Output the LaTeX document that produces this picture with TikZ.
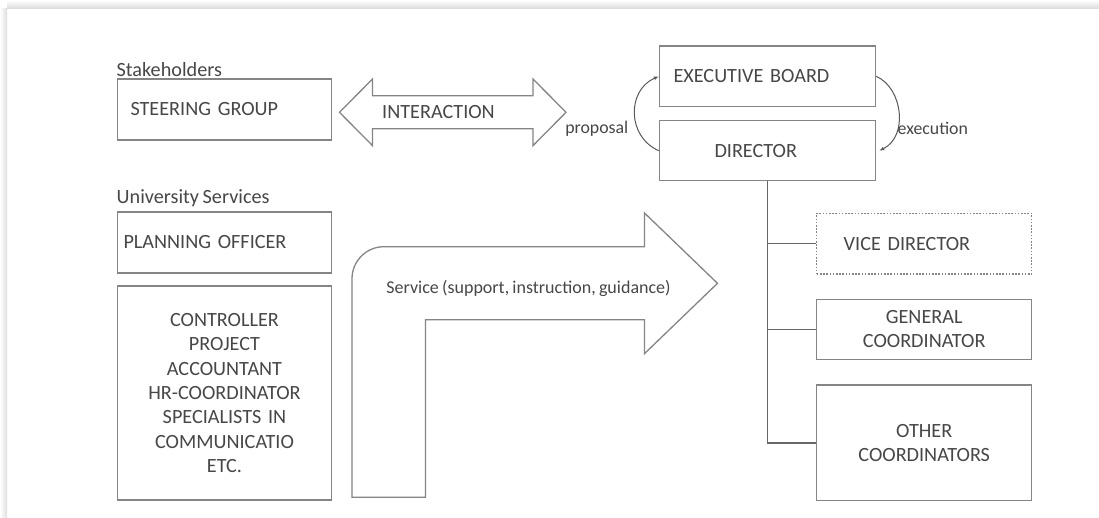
\documentclass[tikz,border=0pt]{standalone}
\usepackage{fontspec}
\setmainfont{Carlito}[WordSpace=0.8]
\usetikzlibrary{arrows.meta}
\definecolor{linegray}{HTML}{858585}
\definecolor{textgray}{HTML}{474747}
\tikzset{
	box/.style={draw=linegray, line width=1.4pt, text=textgray, inner sep=0pt,
		font=\fontsize{20.2}{24.3}\selectfont},
	lbl/.style={text=textgray, inner sep=0pt, font=\fontsize{20.2}{24}\selectfont},
	small/.style={text=textgray, inner sep=0pt, font=\fontsize{17.8}{21}\selectfont},
	shape line/.style={draw=linegray, line width=1.3pt, line join=miter},
	flow/.style={draw=black!65, line width=1pt, -{Latex[length=5pt,width=4pt]}},
	tree/.style={draw=black!60, line width=1.4pt}
}
\begin{document}
\begin{tikzpicture}[x=1pt, y=-1pt]
		\useasboundingbox (0,0) rectangle (1099,517);
		\fill[white] (0,0) rectangle (1099,517);
		\shade[left color=white, right color=black!13] (0,8) rectangle (7,517);
		\shade[top color=white, bottom color=black!13] (7,0) rectangle (1099,8);

		\node[lbl, anchor=west] (stake) at (116.5,70) {Stakeholders};
		\node[box, minimum width=214pt, minimum height=61pt, text width=188pt, align=left] (steer) at (224.5,109.5) {STEERING GROUP};

		\node[lbl, anchor=west] (unisrv) at (116.5,198) {University Services};
		\node[box, minimum width=214pt, minimum height=61pt, text width=202pt, align=left] (plan) at (224.5,242.5) {PLANNING OFFICER};
		\node[box, minimum width=214pt, minimum height=214pt, text width=200pt, align=center] (staff) at (224.5,393) {CONTROLLER\\PROJECT\\ACCOUNTANT\\HR-COORDINATOR\\SPECIALISTS IN\\COMMUNICATIO\\ETC.};

		\draw[shape line] (339.5,112.3) -- (372.5,79) -- (372.5,95.8) -- (533,95.8) -- (533,79) -- (566,112.3)
			-- (533,145.6) -- (533,128.8) -- (372.5,128.8) -- (372.5,145.6) -- cycle;
		\node[lbl] (inter) at (438.5,112) {INTERACTION};

		\draw[shape line] (352,497.3) -- (352,278.7) arc[start angle=180, end angle=90, radius=32pt]
			-- (644.5,246.7) -- (644.5,213) -- (717.5,283.3) -- (644.5,353.6) -- (644.5,319.7)
			-- (425.5,319.7) -- (425.5,497.3) -- cycle;
		\node[text=textgray, inner sep=0pt, font=\fontsize{18}{21}\selectfont] (srv) at (528.5,288) {Service (support, instruction, guidance)};

		\node[box, minimum width=216pt, minimum height=60.7pt, text width=188pt, align=left] (exec) at (767.5,76.3) {EXECUTIVE BOARD};
		\node[box, minimum width=216pt, minimum height=60pt, text width=106pt, align=left] (dir) at (767.5,150.7) {DIRECTOR};

		\draw[flow] (dir.west) .. controls +(-32,-14) and +(-32,14) .. (exec.west);
		\node[small, anchor=east] (prop) at (628.5,128.5) {proposal};
		\draw[flow] (exec.east) .. controls +(27,12) and +(29,-14) .. ([xshift=3pt]dir.east);
		\node[small, anchor=west] (exe) at (897.5,128.5) {execution};

		\node[box, dash pattern=on 1.6pt off 1.6pt, minimum width=215pt, minimum height=60.7pt, text width=161pt, align=left] (vice) at (924.2,243.7) {VICE DIRECTOR};
		\node[box, minimum width=215pt, minimum height=60pt, text width=200pt, align=center] (gen) at (924.2,329.3) {GENERAL\\COORDINATOR};
		\node[box, minimum width=215pt, minimum height=115.7pt, text width=200pt, align=center] (other) at (924.2,442.8) {OTHER\\COORDINATORS};

		\draw[tree] (dir.south) |- (other.west);
		\draw[tree] (dir.south |- vice.west) -- (vice.west);
		\draw[tree] (dir.south |- gen.west) -- (gen.west);
	\end{tikzpicture}
\end{document}
